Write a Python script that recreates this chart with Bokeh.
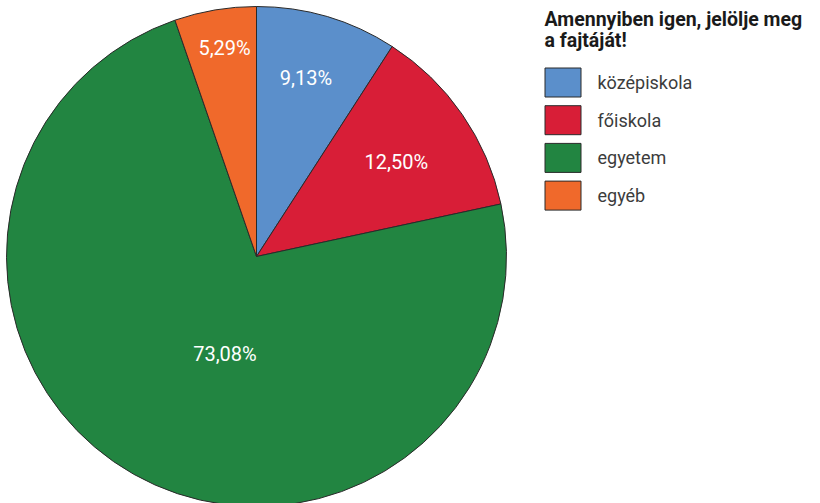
import math
from bokeh.plotting import figure
from bokeh.models import Range1d, ColumnDataSource
from bokeh.core.properties import value
from bokeh.embed import file_html
from bokeh.resources import INLINE

# ---- data ----
categories = ["középiskola", "főiskola", "egyetem", "egyéb"]
shares = [9.13, 12.50, 73.08, 5.29]
labels = ["9,13%", "12,50%", "73,08%", "5,29%"]
title_lines = ["Amennyiben igen, jelölje meg", "a fajtáját!"]

# ---- style / layout ----
colors = ["#5b8fcb", "#d81e37", "#228541", "#f0692b"]
label_radius = [185, 169, 102, 211]        # px from centre
label_angle = [15.5, 55.8, 198.0, 351.3]   # deg, clockwise from 12 o'clock
FONT = "Roboto"

W, H = 820, 503
p = figure(width=W, height=H, x_range=Range1d(0, W), y_range=Range1d(-H, 0),
           output_backend="svg", toolbar_location=None, min_border=0)
p.axis.visible = False
p.grid.visible = False
p.outline_line_color = None
p.background_fill_color = "white"
p.border_fill_color = "white"

cx, cy, R = 256, -256, 250
total = sum(shares)
starts, ends = [], []
c = 0.0
for s in shares:
    starts.append(math.pi / 2 - 2 * math.pi * c / total)
    c += s
    ends.append(math.pi / 2 - 2 * math.pi * c / total)

src = ColumnDataSource(dict(start=starts, end=ends, color=colors, cat=categories))
p.wedge(x=cx, y=cy, radius=R, start_angle="start", end_angle="end", direction="clock",
        fill_color="color", line_color="#2a2a2a", line_width=1, source=src)

lx = [cx + r * math.sin(math.radians(a)) for r, a in zip(label_radius, label_angle)]
ly = [cy + r * math.cos(math.radians(a)) for r, a in zip(label_radius, label_angle)]
p.text(x=lx, y=ly, text=labels, text_color="white", text_font=value(FONT),
       text_font_size="20px", text_align="center", text_baseline="middle")

# legend title
p.text(x=[544, 544], y=[-19, -40], text=title_lines, text_color="#1a1a1a",
       text_font=value(FONT), text_font_size="19.5px", text_font_style="bold",
       text_align="left", text_baseline="alphabetic")

# legend entries
n = len(categories)
ys = [-(82 + 37.7 * i) for i in range(n)]
p.rect(x=[562.5] * n, y=ys, width=36, height=29, fill_color=colors,
       line_color="#2a2a2a", line_width=1)
p.text(x=[597] * n, y=ys, text=categories, text_color="#3c3c3c", text_font=value(FONT),
       text_font_size="18px", text_align="left", text_baseline="middle")

open("out.html", "w").write(file_html(p, INLINE))
